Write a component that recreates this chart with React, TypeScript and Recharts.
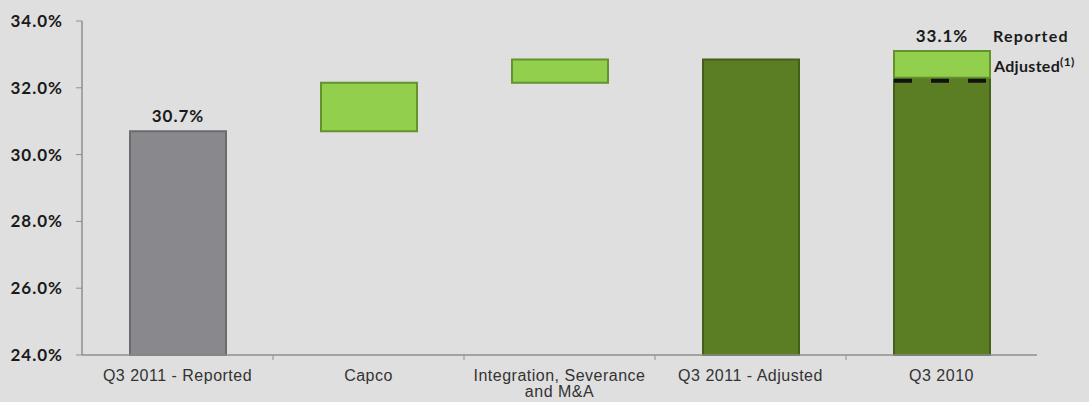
import React from 'react'
import { BarChart, Bar, XAxis, YAxis, Text, Rectangle } from 'recharts'

// waterfall pieces: each category has a lower block and (Q3 2010 only) an upper block
const categories = ['Q3 2011 - Reported', 'Capco', 'Integration, Severance and M&A', 'Q3 2011 - Adjusted', 'Q3 2010']
const lowerFrom = [24, 30.7, 32.15, 24, 24]
const lowerTo = [30.7, 32.15, 32.85, 32.85, 32.3]
const lowerKind = ['reported', 'change', 'change', 'adjusted', 'adjusted']
const upperFrom = [null, null, null, null, 32.3]
const upperTo = [null, null, null, null, 33.1]
const topLabels = ['30.7%', '', '', '', '33.1%']
const yTicks = [24, 26, 28, 30, 32, 34]

const data = categories.map((name, i) => ({
  name,
  lower: [lowerFrom[i], lowerTo[i]],
  upper: upperFrom[i] == null ? null : [upperFrom[i], upperTo[i]],
}))

const colors: Record<string, { fill: string; stroke: string }> = {
  reported: { fill: '#89888d', stroke: '#6b6a6f' },
  change: { fill: '#91cf4c', stroke: '#64922c' },
  adjusted: { fill: '#5b7e24', stroke: '#43601a' },
}

const labelFont = 'Lato, "Open Sans", sans-serif'

const catIndex = (props: any) => categories.indexOf(props.payload?.name)

function CategoryTick(props: any) {
  const { x, y, payload, index } = props
  const half = payload.offset || 0
  return (
    <g>
      {index < categories.length - 1 && (
        <line x1={x + half} x2={x + half} y1={y} y2={y + 5} stroke="#8f8f8f" />
      )}
      <Text
        x={x}
        y={y + 15}
        width={170}
        textAnchor="middle"
        verticalAnchor="start"
        fontSize={16}
        lineHeight={16}
        letterSpacing={0.5}
        fill="#333"
        fontFamily='"Liberation Sans", Arial, sans-serif'
      >
        {payload.value}
      </Text>
    </g>
  )
}

function ValueLabel({ x, y, width, idx }: any) {
  const text = topLabels[idx]
  if (!text) return null
  return (
    <text
      x={x + width / 2}
      y={y - 9}
      textAnchor="middle"
      fontSize={17}
      letterSpacing={1}
      fontWeight="bold"
      fill="#1a1a1a"
      fontFamily={labelFont}
    >
      {text}
    </text>
  )
}

function LowerShape(props: any) {
  const { x, y, width, height } = props
  const idx = catIndex(props)
  const c = colors[lowerKind[idx]]
  return (
    <g>
      <Rectangle x={x} y={y} width={width} height={height} fill={c.fill} stroke={c.stroke} strokeWidth={2} />
      {idx === 0 && <ValueLabel x={x} y={y} width={width} idx={idx} />}
    </g>
  )
}

// light green top of Q3 2010 with the dashed adjusted line and side notes
function UpperShape(props: any) {
  const { x, y, width, height } = props
  const idx = catIndex(props)
  const c = colors.change
  return (
    <g>
      <Rectangle x={x} y={y} width={width} height={height} fill={c.fill} stroke={c.stroke} strokeWidth={2} />
      <line x1={x} x2={x + width} y1={y + height + 3} y2={y + height + 3} stroke="#111" strokeWidth={4} strokeDasharray="18 19" />
      <ValueLabel x={x} y={y} width={width} idx={idx} />
      <g fontFamily={labelFont} fontWeight="bold" fill="#1a1a1a">
        <text x={x + width + 3} y={y - 9} fontSize={16} letterSpacing={1.2}>
          Reported
        </text>
        <text x={x + width + 4} y={y + 21} fontSize={16} letterSpacing={0.3}>
          Adjusted
          <tspan fontSize={12} dy={-6}>(1)</tspan>
        </text>
      </g>
    </g>
  )
}

export default function App() {
  return (
    <div style={{ position: 'absolute', left: 0, top: 0, width: 1089, height: 402, background: '#dfdfdf' }}>
      <BarChart
        width={1089}
        height={402}
        data={data}
        barSize={96}
        margin={{ top: 21, right: 52, left: 0, bottom: 0 }}
      >
        <XAxis
          xAxisId="cat"
          dataKey="name"
          interval={0}
          height={47}
          tick={<CategoryTick />}
          tickLine={false}
          tickSize={0}
          tickMargin={0}
          axisLine={{ stroke: '#8f8f8f', strokeWidth: 1.5 }}
        />
        <XAxis xAxisId="top" dataKey="name" hide />
        <YAxis
          width={82}
          domain={[24, 34]}
          ticks={yTicks}
          tickFormatter={(v: number) => v.toFixed(1) + '%'}
          tickSize={6}
          tickMargin={13}
          tickLine={{ stroke: '#8f8f8f' }}
          axisLine={{ stroke: '#8f8f8f', strokeWidth: 1.5 }}
          tick={{ fontSize: 17, fontWeight: 'bold', fill: '#1a1a1a', fontFamily: labelFont, letterSpacing: 1 }}
        />
        <Bar xAxisId="cat" dataKey="lower" shape={<LowerShape />} isAnimationActive={false} />
        <Bar xAxisId="top" dataKey="upper" shape={<UpperShape />} isAnimationActive={false} />
      </BarChart>
    </div>
  )
}
